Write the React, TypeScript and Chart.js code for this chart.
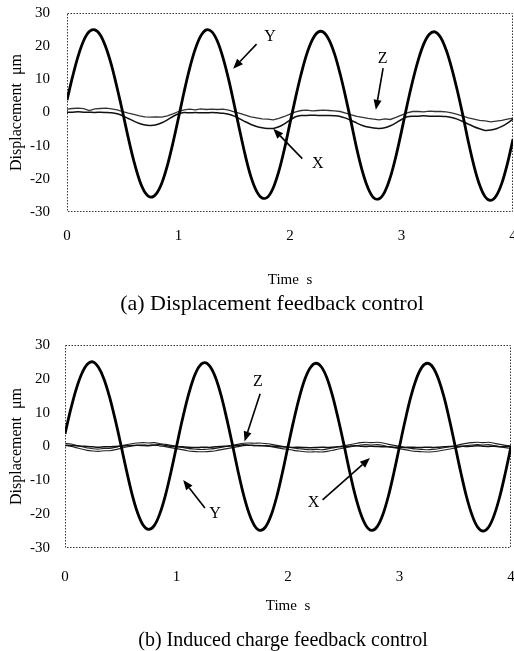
import React, { useEffect, useRef } from 'react';
import { Chart, registerables } from 'chart.js';

Chart.register(...registerables);

const FONT = '"Liberation Serif", "DejaVu Serif", "Times New Roman", serif';

// time axis, seconds
const times = [
  0, 0.05, 0.1, 0.15, 0.2, 0.25, 0.3, 0.35, 0.4, 0.45, 0.5,
  0.55, 0.6, 0.65, 0.7, 0.75, 0.8, 0.85, 0.9, 0.95, 1.0,
  1.05, 1.1, 1.15, 1.2, 1.25, 1.3, 1.35, 1.4, 1.45, 1.5,
  1.55, 1.6, 1.65, 1.7, 1.75, 1.8, 1.85, 1.9, 1.95, 2.0,
  2.05, 2.1, 2.15, 2.2, 2.25, 2.3, 2.35, 2.4, 2.45, 2.5,
  2.55, 2.6, 2.65, 2.7, 2.75, 2.8, 2.85, 2.9, 2.95, 3.0,
  3.05, 3.1, 3.15, 3.2, 3.25, 3.3, 3.35, 3.4, 3.45, 3.5,
  3.55, 3.6, 3.65, 3.7, 3.75, 3.8, 3.85, 3.9, 3.95, 4.0,
];

// (a) Displacement feedback control
const yA = [
  3.7, 10.8, 17.0, 21.7, 24.4, 24.9, 23.3, 19.5, 14.1, 7.3, 0.0,
  -7.7, -14.7, -20.4, -24.1, -25.5, -24.5, -21.3, -16.0, -9.2, -1.6,
  6.2, 13.3, 19.1, 23.1, 24.9, 24.3, 21.4, 16.4, 9.9, 2.3,
  -5.6, -13.1, -19.4, -23.7, -25.8, -25.5, -22.7, -17.7, -11.0, -3.2,
  4.5, 11.6, 17.6, 21.9, 24.2, 24.2, 21.9, 17.6, 11.6, 4.5,
  -3.2, -11.1, -17.8, -22.8, -25.7, -26.0, -23.9, -19.5, -13.2, -5.7,
  2.2, 9.5, 15.8, 20.7, 23.6, 24.3, 22.7, 18.9, 13.4, 6.7,
  -0.8, -8.9, -16.1, -21.8, -25.4, -26.5, -25.1, -21.3, -15.4, -8.1,
];
const xA = [
  0.1, 0.1, 0.2, 0.1, 0.1, 0.0, 0.1, 0.0, -0.1, -0.4, -1.0,
  -1.8, -2.6, -3.3, -3.8, -3.9, -3.7, -3.1, -2.2, -1.2, -0.4,
  0.0, -0.1, 0.0, -0.1, -0.1, 0.0, -0.1, -0.2, -0.5, -1.1,
  -1.9, -2.8, -3.6, -4.2, -4.6, -4.8, -4.8, -4.3, -3.4, -2.3,
  -1.3, -0.9, -0.9, -0.8, -0.9, -0.9, -0.9, -1.0, -1.2, -1.7,
  -2.4, -3.2, -3.9, -4.4, -4.7, -4.8, -4.6, -4.0, -3.1, -2.1,
  -1.3, -1.1, -1.1, -1.0, -1.1, -1.1, -1.1, -1.2, -1.5, -2.0,
  -2.7, -3.5, -4.3, -4.9, -5.4, -5.3, -4.9, -4.2, -3.2, -2.0,
];
const zA = [
  1.0, 1.2, 1.3, 1.2, 0.6, 1.1, 1.2, 1.3, 1.1, 0.8, 0.3,
  -0.2, -0.6, -1.0, -1.3, -1.4, -1.3, -1.4, -1.0, -0.4, 0.3,
  0.8, 1.0, 0.8, 1.1, 0.9, 1.0, 0.9, 1.0, 0.7, 0.2,
  -0.3, -0.8, -1.3, -1.6, -1.9, -2.0, -2.2, -1.8, -1.2, -0.5,
  0.2, 0.6, 0.7, 0.5, 0.6, 0.7, 0.6, 0.5, 0.3, -0.2,
  -0.7, -1.2, -1.5, -1.8, -2.0, -2.2, -1.9, -2.1, -1.5, -0.8,
  -0.1, 0.3, 0.3, 0.2, 0.4, 0.3, 0.3, 0.2, -0.1, -0.6,
  -1.1, -1.6, -2.0, -2.4, -2.5, -2.8, -2.6, -2.4, -2.0, -1.7,
];

// (b) Induced charge feedback control
const yB = [
  3.7, 10.8, 16.9, 21.5, 24.3, 25.0, 23.4, 19.9, 14.6, 8.0, 0.7,
  -6.9, -13.9, -19.5, -23.2, -24.5, -23.4, -19.9, -14.5, -7.6, 0.0,
  7.6, 14.4, 19.9, 23.5, 24.8, 23.7, 20.4, 15.1, 8.3, 0.8,
  -7.0, -14.1, -19.7, -23.4, -24.8, -23.7, -20.2, -14.7, -7.7, 0.0,
  7.5, 14.3, 19.8, 23.3, 24.6, 23.5, 20.2, 14.9, 8.2, 0.8,
  -7.0, -14.1, -19.7, -23.4, -24.8, -23.7, -20.2, -14.7, -7.7, 0.0,
  7.6, 14.5, 19.9, 23.4, 24.6, 23.4, 19.9, 14.5, 7.6, 0.0,
  -7.7, -14.7, -20.2, -23.8, -25.0, -23.8, -20.2, -14.7, -7.7, 0.0,
];
const xB = [
  0.4, 0.3, 0.2, 0.1, 0.0, -0.1, -0.2, -0.1, -0.1, 0.0, 0.1,
  0.2, 0.3, 0.4, 0.3, 0.2, 0.4, 0.6, 0.3, 0.1, 0.0,
  -0.1, -0.2, -0.3, -0.3, -0.2, -0.3, -0.1, 0.0, 0.1, 0.2,
  0.3, 0.5, 0.4, 0.3, 0.2, 0.2, 0.1, 0.0, -0.1, -0.2,
  -0.3, -0.2, -0.3, -0.4, -0.3, -0.2, -0.3, -0.2, -0.1, 0.0,
  0.1, 0.2, 0.1, 0.0, 0.1, 0.0, -0.1, -0.1, -0.2, -0.2,
  -0.3, -0.2, -0.3, -0.3, -0.2, -0.3, -0.2, -0.1, 0.0, 0.0,
  0.1, 0.0, 0.1, 0.2, 0.1, 0.0, 0.1, -0.1, 0.0, 0.1,
];
const zB = [
  0.6, 0.4, 0.0, -0.4, -0.8, -1.0, -1.1, -0.9, -0.9, -0.6, -0.2,
  0.2, 0.5, 0.7, 0.8, 0.7, 0.8, 0.5, 0.3, 0.0, -0.3,
  -0.6, -0.9, -1.1, -1.2, -1.2, -1.1, -0.9, -0.6, -0.3, 0.0,
  0.3, 0.6, 0.7, 0.6, 0.7, 0.5, 0.3, 0.0, -0.3, -0.5,
  -0.8, -1.0, -1.2, -1.3, -1.2, -1.3, -1.1, -0.8, -0.4, -0.1,
  0.2, 0.5, 0.8, 0.9, 0.8, 0.9, 0.7, 0.3, 0.0, -0.3,
  -0.6, -0.9, -1.1, -1.2, -1.3, -1.2, -1.0, -0.7, -0.4, -0.1,
  0.3, 0.6, 0.8, 0.9, 0.8, 0.9, 0.6, 0.3, 0.0, -0.2,
];

const xTickValues = [0, 1, 2, 3, 4];
const yTickValues = [-30, -20, -10, 0, 10, 20, 30];
const xTitle = 'Time  s';
const yTitle = 'Displacement  \u03bcm';
const captionA = '(a) Displacement feedback control';
const captionB = '(b) Induced charge feedback control';

type Note = { text: string; tx: number; ty: number; fx: number; fy: number; ax: number; ay: number };
const notesA: Note[] = [
  { text: 'Y', tx: 1.82, ty: 22.9, fx: 1.7, fy: 20.6, ax: 1.49, ay: 13.2 },
  { text: 'Z', tx: 2.83, ty: 16.3, fx: 2.835, fy: 13.4, ax: 2.77, ay: 0.8 },
  { text: 'X', tx: 2.25, ty: -15.4, fx: 2.11, fy: -13.9, ax: 1.85, ay: -4.9 },
];
const notesB: Note[] = [
  { text: 'Z', tx: 1.73, ty: 19.1, fx: 1.75, fy: 15.6, ax: 1.61, ay: 1.5 },
  { text: 'Y', tx: 1.345, ty: -19.8, fx: 1.255, fy: -18.2, ax: 1.06, ay: -9.9 },
  { text: 'X', tx: 2.23, ty: -16.7, fx: 2.31, fy: -15.8, ax: 2.735, ay: -3.4 },
];

function pts(vals: number[]) {
  return times.map((t, i) => ({ x: t, y: vals[i] }));
}

const framePlugin = {
  id: 'frame',
  beforeDatasetsDraw(chart: any) {
    const { ctx, chartArea } = chart;
    const { left, top, right, bottom } = chartArea;
    ctx.save();
    ctx.strokeStyle = '#333';
    ctx.lineWidth = 1;
    ctx.setLineDash([1.5, 1.5]);
    ctx.strokeRect(Math.round(left) + 0.5, Math.round(top) + 0.5, Math.round(right - left) - 1, Math.round(bottom - top) - 1);
    ctx.restore();
  },
};

function notesPlugin(notes: Note[]) {
  return {
    id: 'notes',
    afterDatasetsDraw(chart: any) {
      const { ctx } = chart;
      const xs = chart.scales.x;
      const ys = chart.scales.y;
      ctx.save();
      ctx.fillStyle = '#000';
      ctx.strokeStyle = '#000';
      ctx.font = `16px ${FONT}`;
      ctx.textAlign = 'center';
      ctx.textBaseline = 'middle';
      for (const n of notes) {
        ctx.fillText(n.text, xs.getPixelForValue(n.tx), ys.getPixelForValue(n.ty));
        const x0 = xs.getPixelForValue(n.fx);
        const y0 = ys.getPixelForValue(n.fy);
        const x1 = xs.getPixelForValue(n.ax);
        const y1 = ys.getPixelForValue(n.ay);
        const ang = Math.atan2(y1 - y0, x1 - x0);
        const hl = 10;
        const hw = 4;
        const bx = x1 - hl * Math.cos(ang);
        const by = y1 - hl * Math.sin(ang);
        ctx.lineWidth = 1.6;
        ctx.beginPath();
        ctx.moveTo(x0, y0);
        ctx.lineTo(bx, by);
        ctx.stroke();
        ctx.beginPath();
        ctx.moveTo(x1, y1);
        ctx.lineTo(bx + hw * Math.sin(ang), by - hw * Math.cos(ang));
        ctx.lineTo(bx - hw * Math.sin(ang), by + hw * Math.cos(ang));
        ctx.closePath();
        ctx.fill();
      }
      ctx.restore();
    },
  };
}

type Spec = {
  height: number;
  padTop: number;
  padRight: number;
  yWidth: number;
  yPad: number;
  xPad: number;
  xHeight: number;
  datasets: any[];
  notes: Note[];
};

function buildConfig(p: Spec): any {
  const tickFont = { family: FONT, size: 15 };
  return {
    type: 'line',
    data: { datasets: p.datasets },
    options: {
      animation: false,
      responsive: false,
      events: [],
      layout: { padding: { top: p.padTop, right: p.padRight, left: 0, bottom: 0 } },
      plugins: { legend: { display: false }, tooltip: { enabled: false } },
      elements: { point: { radius: 0 } },
      scales: {
        x: {
          type: 'linear',
          min: 0,
          max: 4,
          grid: { display: false, drawTicks: false },
          border: { display: false },
          afterBuildTicks: (s: any) => {
            s.ticks = xTickValues.map((v) => ({ value: v }));
          },
          ticks: {
            padding: p.xPad,
            font: tickFont,
            color: '#000',
            maxRotation: 0,
            autoSkip: false,
            callback: (v: any) => String(v),
          },
          title: {
            display: true,
            text: xTitle,
            font: tickFont,
            color: '#000',
            padding: { top: 0, bottom: 2 },
          },
          afterFit: (s: any) => {
            s.height = p.xHeight;
            s.paddingLeft = 0;
            s.paddingRight = 0;
          },
        },
        y: {
          type: 'linear',
          min: -30,
          max: 30,
          grid: { display: false, drawTicks: false },
          border: { display: false },
          afterBuildTicks: (s: any) => {
            s.ticks = yTickValues.map((v) => ({ value: v }));
          },
          ticks: {
            padding: p.yPad,
            font: tickFont,
            color: '#000',
            autoSkip: false,
            callback: (v: any) => String(v),
          },
          title: {
            display: true,
            text: yTitle,
            font: { family: FONT, size: 16 },
            color: '#000',
            padding: { top: 7, bottom: 0 },
          },
          afterFit: (s: any) => {
            s.width = p.yWidth;
            s.paddingTop = 0;
            s.paddingBottom = 0;
          },
        },
      },
    },
    plugins: [framePlugin, notesPlugin(p.notes)],
  };
}

function Panel({ spec, top }: { spec: Spec; top: number }) {
  const ref = useRef<HTMLCanvasElement | null>(null);
  useEffect(() => {
    if (!ref.current) return;
    const chart = new Chart(ref.current, buildConfig(spec));
    return () => chart.destroy();
  }, []);
  return (
    <canvas
      ref={ref}
      width={514}
      height={spec.height}
      style={{ position: 'absolute', left: 0, top, width: 514, height: spec.height, display: 'block' }}
    />
  );
}

const specA: Spec = {
  height: 291,
  padTop: 13,
  padRight: 1,
  yWidth: 67,
  yPad: 17,
  xPad: 15,
  xHeight: 79,
  notes: notesA,
  datasets: [
    { label: 'Y', data: pts(yA), borderColor: '#000', borderWidth: 2.8, tension: 0.35, order: 0 },
    { label: 'X', data: pts(xA), borderColor: '#111', borderWidth: 1.5, tension: 0.2, order: 1 },
    { label: 'Z', data: pts(zA), borderColor: '#333', borderWidth: 1.3, tension: 0, order: 2 },
  ],
};

const specB: Spec = {
  height: 317,
  padTop: 45,
  padRight: 3,
  yWidth: 65,
  yPad: 15,
  xPad: 20,
  xHeight: 69,
  notes: notesB,
  datasets: [
    { label: 'Y', data: pts(yB), borderColor: '#000', borderWidth: 2.8, tension: 0.35, order: 0 },
    { label: 'X', data: pts(xB), borderColor: '#111', borderWidth: 1.5, tension: 0.2, order: 1 },
    { label: 'Z inner', data: pts(zB), borderColor: '#fff', borderWidth: 1.2, tension: 0.2, order: 2 },
    { label: 'Z', data: pts(zB), borderColor: '#222', borderWidth: 3.4, tension: 0.2, order: 3 },
  ],
};

const captionStyle = (top: number, center: number, size: number): React.CSSProperties => ({
  position: 'absolute',
  top,
  left: center - 200,
  width: 400,
  textAlign: 'center',
  fontFamily: FONT,
  fontSize: size,
  lineHeight: 1,
  color: '#000',
  whiteSpace: 'nowrap',
});

export default function App() {
  return (
    <div style={{ position: 'absolute', left: 0, top: 0, width: 514, height: 651, overflow: 'hidden', background: '#fff' }}>
      <Panel spec={specA} top={0} />
      <div style={captionStyle(292, 272, 22)}>{captionA}</div>
      <Panel spec={specB} top={300} />
      <div style={captionStyle(629, 283, 20)}>{captionB}</div>
    </div>
  );
}
